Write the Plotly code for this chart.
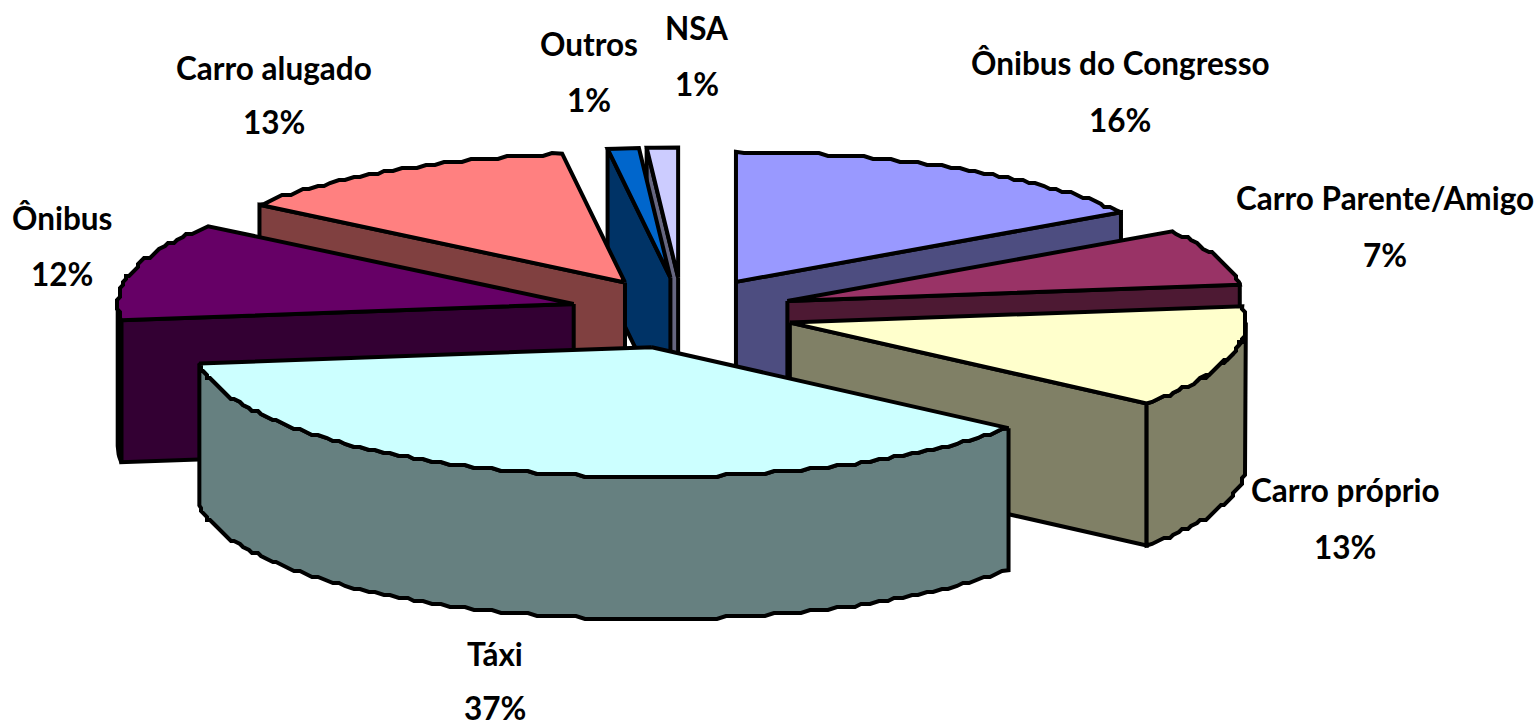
import numpy as np
import plotly.graph_objects as go

# --- data -------------------------------------------------------------
categories = ["Ônibus do Congresso", "Carro Parente/Amigo", "Carro próprio", "Táxi",
              "Ônibus", "Carro alugado", "Outros", "NSA"]
values = [16.0, 7.0, 12.7, 37.3, 12.2, 12.6, 1.1, 1.1]

# --- styles -----------------------------------------------------------
top_colors = ["#9999FF", "#993366", "#FFFFCC", "#CCFFFF", "#660066", "#FF8080", "#0066CC", "#CCCCFF"]
side_colors = ["#4D4D80", "#4D1933", "#808066", "#668080", "#330033", "#804040", "#003366", "#666680"]
draw_order = [7, 6, 0, 1, 2, 5, 4, 3]
label_xy = [(1120, 63, 120), (1385, 198, 255), (1345, 490, 547), (495, 654, 708),
            (62, 218, 274), (274, 68, 122), (589, 44, 100), (697, 28, 84)]

# --- pie geometry (projection of an exploded disc) -----------------------
CX, CY = 682.0, 313.0
RX, RY = 456.0, 130.0
EXPLODE_X, EXPLODE_Y = 112.0, 35.5
DEPTH = 142.0
SNAP = 3.0
LINE = 4
FONT = "Lato, Liberation Sans, Arial, sans-serif"


def rim(apex, deg):
    r = np.radians(deg)
    return apex[0] + RX * np.sin(r), apex[1] - RY * np.cos(r)


def rim_arc(apex, t0, t1):
    n = max(2, int(abs(t1 - t0) / 1.2) + 2)
    ts = np.linspace(t0, t1, n)
    xs, ys = rim(apex, ts)
    if t1 - t0 > 10:
        xs[1:-1] = np.round(xs[1:-1] / SNAP) * SNAP
        ys[1:-1] = np.round(ys[1:-1] / SNAP) * SNAP
    return xs, ys


fig = go.Figure()


def face(xs, ys, color, name):
    fig.add_trace(go.Scatter(x=list(xs), y=list(ys), mode="lines", fill="toself",
                             fillcolor=color, line=dict(color="black", width=LINE),
                             name=name, hoverinfo="name"))


total = sum(values)
edges = np.concatenate([[0.0], np.cumsum(values)]) / total * 360.0

for i in draw_order:
    t0, t1 = edges[i], edges[i + 1]
    tm = np.radians((t0 + t1) / 2)
    apex = (CX + EXPLODE_X * np.sin(tm), CY - EXPLODE_Y * np.cos(tm))
    name = categories[i]
    # radial walls that face the viewer
    for t, visible in ((t0, np.sin(np.radians(t0)) < 0), (t1, np.sin(np.radians(t1)) > 0)):
        if visible:
            rx_, ry_ = rim(apex, t)
            face([apex[0], rx_, rx_, apex[0], apex[0]],
                 [apex[1], ry_, ry_ + DEPTH, apex[1] + DEPTH, apex[1]], side_colors[i], name)
    # outer wall, front half only
    a, b = max(t0, 90.0), min(t1, 270.0)
    if b > a:
        xs, ys = rim_arc(apex, a, b)
        face(np.r_[xs, xs[::-1], xs[0]], np.r_[ys, ys[::-1] + DEPTH, ys[0]], side_colors[i], name)
    # top
    xs, ys = rim_arc(apex, t0, t1)
    face(np.r_[apex[0], xs, apex[0]], np.r_[apex[1], ys, apex[1]], top_colors[i], name)

for name, v, (lx, y1, y2) in zip(categories, values, label_xy):
    for text, y in ((name, y1), (f"{round(v / total * 100)}%", y2)):
        fig.add_annotation(x=lx, y=y, text=f"<b>{text}</b>", showarrow=False,
                           xanchor="center", yanchor="middle",
                           font=dict(family=FONT, size=31.5, color="black"))

fig.update_layout(width=1535, height=726, autosize=False, showlegend=False,
                  margin=dict(l=0, r=0, t=0, b=0),
                  paper_bgcolor="white", plot_bgcolor="white",
                  xaxis=dict(range=[0, 1535], visible=False, fixedrange=True),
                  yaxis=dict(range=[726, 0], visible=False, fixedrange=True))
fig.write_html("out.html", config={"displayModeBar": False},
               post_script="document.body.style.margin='0';document.body.style.overflow='hidden';")
